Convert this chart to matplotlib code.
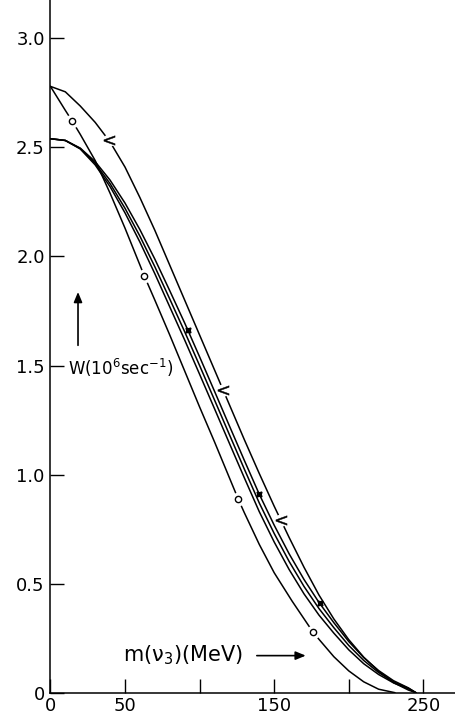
import matplotlib
matplotlib.use("Agg")
import matplotlib.pyplot as plt

plt.rcParams['font.family'] = ['DejaVu Sans']
plt.rcParams['mathtext.default'] = 'regular'

# ---- data ----
# curve with "<" markers
a_x = [0, 10, 20, 30, 40, 50, 60, 70, 80, 90, 100, 110, 120, 130, 140, 150,
       160, 170, 180, 190, 200, 210, 220, 230, 240, 245]
a_y = [2.78, 2.755, 2.69, 2.615, 2.525, 2.41, 2.27, 2.12, 1.96, 1.80, 1.64,
       1.48, 1.32, 1.16, 1.005, 0.855, 0.712, 0.575, 0.448, 0.338, 0.243,
       0.163, 0.098, 0.046, 0.012, 0.0]
a_mx = [39.6, 116, 154.6]
a_my = [2.536, 1.39, 0.79]

# curve with circle markers
b_x = [0, 10, 14.7, 20, 30, 40, 50, 63, 70, 80, 90, 100, 110, 120, 126, 130,
       140, 150, 162, 176, 180, 190, 200, 210, 220, 231]
b_y = [2.78, 2.67, 2.62, 2.56, 2.44, 2.29, 2.13, 1.91, 1.80, 1.64, 1.475,
       1.31, 1.15, 0.985, 0.886, 0.825, 0.68, 0.55, 0.42, 0.278, 0.245,
       0.165, 0.10, 0.05, 0.016, 0.0]
b_mx = [14.7, 63, 126, 176]
b_my = [2.62, 1.91, 0.886, 0.278]

# three close curves starting at 2.54
bundle_x = [0, 10, 20, 30, 40, 50, 60, 70, 80, 90, 100, 110, 120, 130, 140,
            150, 160, 170, 180, 190, 200, 210, 220, 230, 240, 245]
r_y = [2.54, 2.532, 2.497, 2.435, 2.35, 2.245, 2.123, 1.988, 1.843, 1.695,
       1.54, 1.382, 1.223, 1.065, 0.91, 0.768, 0.637, 0.519, 0.414, 0.321,
       0.2345, 0.161, 0.1015, 0.055, 0.022, 0.0]
m_y = [2.54, 2.532, 2.495, 2.427, 2.334, 2.221, 2.093, 1.953, 1.805, 1.655,
       1.50, 1.342, 1.183, 1.025, 0.87, 0.73, 0.602, 0.487, 0.386, 0.298,
       0.2165, 0.148, 0.0925, 0.05, 0.02, 0.0]
l_y = [2.54, 2.532, 2.493, 2.42, 2.32, 2.20, 2.066, 1.921, 1.769, 1.617,
       1.46, 1.302, 1.143, 0.985, 0.83, 0.691, 0.565, 0.453, 0.356, 0.273,
       0.1965, 0.133, 0.0835, 0.045, 0.018, 0.0]
r_mx = [92, 140, 181]
r_my = [1.665, 0.91, 0.41]

x_ticks = [0, 50, 100, 150, 200, 250]
x_labels = ['0', '50', '', '150', '', '250']
y_ticks = [0, 0.5, 1.0, 1.5, 2.0, 2.5, 3.0]
y_labels = ['0', '0.5', '1.0', '1.5', '2.0', '2.5', '3.0']

fig = plt.figure(figsize=(4.55, 7.21), dpi=100)
ax = fig.add_axes([0.1108, 0.03925, 1 - 0.1108, 1 - 0.03925])
ax.set_xlim(0, 271.2)
ax.set_ylim(0, 3.176)

lw = 1.1
curves = [(a_x, a_y), (b_x, b_y), (bundle_x, r_y), (bundle_x, m_y), (bundle_x, l_y)]
for xs, ys in curves:
    ax.plot(xs, ys, color='black', lw=lw, solid_joinstyle='round',
            solid_capstyle='round', zorder=2)

# gaps + markers
ax.plot(b_mx, b_my, ls='none', marker='o', ms=10, mfc='white', mec='none', zorder=3)
ax.plot(b_mx, b_my, ls='none', marker='o', ms=4.5, mfc='white', mec='black', mew=1.0, zorder=4)
ax.plot(a_mx, a_my, ls='none', marker='o', ms=9, mfc='white', mec='none', zorder=3)
ax.plot(a_mx, a_my, ls='none', marker='$<$', ms=8, color='black', mew=0.3, zorder=4)
ax.plot(r_mx, r_my, ls='none', marker=(4, 1, 45), ms=5, color='black', zorder=4)

ax.spines['top'].set_visible(False)
ax.spines['right'].set_visible(False)
for s in ['left', 'bottom']:
    ax.spines[s].set_linewidth(1.1)

ax.set_xticks(x_ticks)
ax.set_xticklabels(x_labels)
ax.set_yticks(y_ticks)
ax.set_yticklabels(y_labels)
ax.tick_params(direction='in', length=10, width=1.0, labelsize=13)
ax.tick_params(axis='y', pad=4)
ax.tick_params(axis='x', pad=3)

ax.text(12, 1.49, 'W(10$^{6}$sec$^{-1}$)', fontsize=12, ha='left', va='center')
ax.annotate('', xy=(18.5, 1.85), xytext=(18.5, 1.58),
            arrowprops=dict(arrowstyle='-|>,head_length=0.6,head_width=0.25',
                            color='black', lw=1.2))
ax.text(48.5, 0.17, 'm($\\nu_3$)(MeV)', fontsize=15, ha='left', va='center')
ax.annotate('', xy=(173, 0.17), xytext=(136.5, 0.17),
            arrowprops=dict(arrowstyle='-|>,head_length=0.6,head_width=0.25',
                            color='black', lw=1.2))

fig.savefig('out.png', dpi=100)
